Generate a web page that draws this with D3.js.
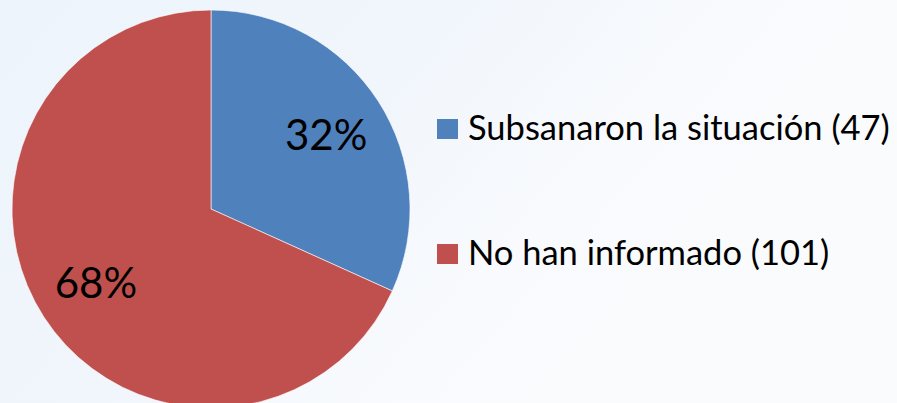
<!DOCTYPE html>
<html>
<head>
<meta charset="utf-8">
<script src="https://cdn.jsdelivr.net/npm/d3@7"></script>
<style>
  html, body { margin: 0; padding: 0; }
  body { width: 897px; height: 403px; overflow: hidden; }
</style>
</head>
<body>
<div id="chart"></div>
<script>
// data
let categories = ["Subsanaron la situación", "No han informado"];
let counts = [47, 101];
let colors = ["#4F81BD", "#C0504D"];

function main(){

    let width = 897;
    let height = 403;

    let svg = d3.select("#chart")
                .append("svg")
                .attr("width", width)
                .attr("height", height)

    // soft background like the slide
    let defs = svg.append("defs");
    let bg = defs.append("linearGradient")
                .attr("id", "bg")
                .attr("x1", "0").attr("y1", "0")
                .attr("x2", "1").attr("y2", "0.4")
    bg.append("stop").attr("offset", "0").attr("stop-color", "#edf4fb")
    bg.append("stop").attr("offset", "0.45").attr("stop-color", "#f1f6fc")
    bg.append("stop").attr("offset", "0.7").attr("stop-color", "#f8fafd")
    bg.append("stop").attr("offset", "1").attr("stop-color", "#fafbfd")

    svg.append("rect")
        .attr("width", width)
        .attr("height", height)
        .attr("fill", "url(#bg)")

    let data = categories.map((c, i) => ({name: c, value: counts[i], color: colors[i]}));
    let total = d3.sum(counts);

    let cx = 211, cy = 209, radius = 199;

    let pie = d3.pie().value(d => d.value).sort(null);
    let arc = d3.arc().innerRadius(0).outerRadius(radius);

    let slices = svg.append("g")
                    .attr("transform", `translate(${cx},${cy})`)

    slices.selectAll("path")
        .data(pie(data))
        .enter()
        .append("path")
        .attr("d", arc)
        .attr("fill", d => d.data.color)
        .attr("stroke", "#ffffff")
        .attr("stroke-width", 0.6)

    // percentage labels, placed on an inner ring
    let labelArc = d3.arc().innerRadius(137).outerRadius(137);
    slices.selectAll("text")
        .data(pie(data))
        .enter()
        .append("text")
        .attr("transform", d => `translate(${labelArc.centroid(d)})`)
        .attr("dy", "0.36em")
        .attr("text-anchor", "middle")
        .attr("font-family", "Lato, 'Open Sans', sans-serif")
        .attr("font-size", 42)
        .attr("fill", "#000")
        .text(d => Math.round(d.data.value / total * 100) + "%")

    // legend
    let legendY = d3.scalePoint()
                    .domain(categories)
                    .range([140, 265])

    let legend = svg.append("g")
                    .selectAll("g")
                    .data(data)
                    .enter()
                    .append("g")
                    .attr("transform", d => `translate(437,${legendY(d.name)})`)

    legend.append("rect")
        .attr("x", 0)
        .attr("y", -21)
        .attr("width", 21)
        .attr("height", 20)
        .attr("fill", d => d.color)

    legend.append("text")
        .attr("x", 31)
        .attr("y", 0)
        .attr("font-family", "Lato, 'Open Sans', sans-serif")
        .attr("font-size", 34.5)
        .attr("fill", "#000")
        .text(d => `${d.name} (${d.value})`)
}

main();
</script>
</body>
</html>
